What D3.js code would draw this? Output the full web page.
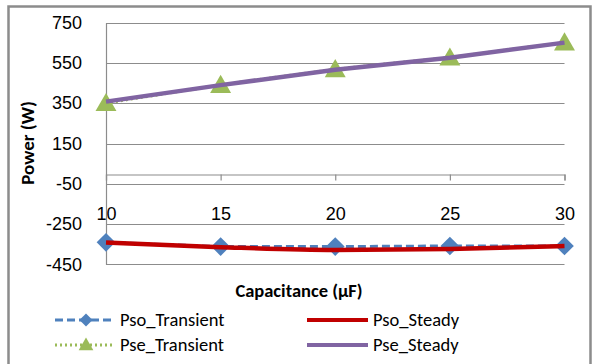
<!doctype html>
<html>
<head>
<meta charset="utf-8">
<script src="https://d3js.org/d3.v7.min.js"></script>
<style>
  body { margin: 0; background: #fff; }
  svg { display: block; font-family: Carlito, Calibri, Lato, "Open Sans", sans-serif; }
</style>
</head>
<body>
<div id="chart"></div>
<script>
// chart data
const capacitance = [10, 15, 20, 25, 30];
const psoTransient = [-341, -362, -362, -359, -359];
const psoSteady = [-342, -365, -379, -374, -359];
const pseTransient = [351, 441, 519, 577, 652];
const pseSteady = [358, 440, 516, 576, 651];
const yTicks = [750, 550, 350, 150, -50, -250, -450];

const width = 595, height = 364;
const svg = d3.select("#chart").append("svg")
    .attr("width", width)
    .attr("height", height);

// outer chart frame (bottom edge runs off the picture)
svg.append("path")
    .attr("d", "M8.5,372 V6.5 H590.5 V372")
    .attr("fill", "none")
    .attr("stroke", "#8c8c8c")
    .attr("stroke-width", 2.5);

const x = d3.scaleLinear().domain([10, 30]).range([106, 564.5]);
const y = d3.scaleLinear().domain([-450, 750]).range([264.3, 22.7]);

const grey = "#8c8c8c";

// horizontal gridlines
svg.append("g")
    .selectAll("line")
    .data(yTicks)
    .join("line")
    .attr("x1", x(10)).attr("x2", x(30))
    .attr("y1", d => Math.round(y(d)) + 0.5)
    .attr("y2", d => Math.round(y(d)) + 0.5)
    .attr("stroke", grey)
    .attr("stroke-width", 1.2);

// y axis
const yAxis = svg.append("g")
    .attr("transform", `translate(${x(10)},0)`)
    .call(d3.axisLeft(y).tickValues(yTicks).tickSize(0).tickPadding(24).tickFormat(d => String(d)));
yAxis.select(".domain").attr("stroke", grey).attr("stroke-width", 1.2);
yAxis.selectAll("text").attr("font-size", 18).attr("fill", "#000").attr("font-family", null);

// x axis crossing at zero, labels pushed down
const xAxis = svg.append("g")
    .attr("transform", `translate(0,${Math.round(y(0)) + 0.5})`)
    .call(d3.axisBottom(x).tickValues(capacitance).tickSize(6).tickPadding(27).tickFormat(d => String(d)));
xAxis.select(".domain").attr("stroke", grey).attr("stroke-width", 1.2);
xAxis.selectAll(".tick line").attr("stroke", grey).attr("stroke-width", 1.2);
xAxis.selectAll("text").attr("font-size", 18).attr("fill", "#000").attr("font-family", null);

// axis titles
svg.append("text")
    .attr("transform", "translate(34,143) rotate(-90)")
    .attr("text-anchor", "middle")
    .attr("font-size", 19)
    .attr("font-weight", "bold")
    .text("Power (W)");

svg.append("text")
    .attr("x", 299).attr("y", 297)
    .attr("text-anchor", "middle")
    .attr("font-size", 18.5)
    .attr("font-weight", "bold")
    .text("Capacitance (\u00b5F)");

const series = [
  {name: "Pso_Transient", values: psoTransient, color: "#4f81bd", dash: "8,4", width: 3, marker: "diamond", curve: d3.curveLinear},
  {name: "Pso_Steady", values: psoSteady, color: "#c00000", dash: null, width: 4.5, marker: null, curve: d3.curveMonotoneX},
  {name: "Pse_Transient", values: pseTransient, color: "#9bbb59", dash: "2,3", width: 3, marker: "triangle", curve: d3.curveLinear},
  {name: "Pse_Steady", values: pseSteady, color: "#8064a2", dash: null, width: 4.5, marker: null, curve: d3.curveLinear}
];

const symbolOf = {
  diamond: d3.symbol().type(d3.symbolSquare).size(175),
  triangle: d3.symbol().type(d3.symbolTriangle).size(190)
};
const rotOf = {diamond: 45, triangle: 0};

// transient lines and markers first, steady lines drawn on top
[series[0], series[2]].forEach(s => {
  const line = d3.line().x((d, i) => x(capacitance[i])).y(d => y(d)).curve(s.curve);
  svg.append("path")
      .datum(s.values)
      .attr("d", line)
      .attr("fill", "none")
      .attr("stroke", s.color)
      .attr("stroke-width", s.width)
      .attr("stroke-dasharray", s.dash);
  svg.append("g")
      .selectAll("path")
      .data(s.values)
      .join("path")
      .attr("d", symbolOf[s.marker])
      .attr("transform", (d, i) => `translate(${x(capacitance[i])},${y(d) + (s.marker === "triangle" ? 2 : 0)}) rotate(${rotOf[s.marker]})`)
      .attr("fill", s.color);
});

[series[1], series[3]].forEach(s => {
  const line = d3.line().x((d, i) => x(capacitance[i])).y(d => y(d)).curve(s.curve);
  svg.append("path")
      .datum(s.values)
      .attr("d", line)
      .attr("fill", "none")
      .attr("stroke", s.color)
      .attr("stroke-width", s.width);
});

// legend
const legendPos = [
  {x: 55, y: 320}, {x: 307, y: 320},
  {x: 55, y: 345}, {x: 307, y: 345}
];
series.forEach((s, i) => {
  const p = legendPos[i];
  const g = svg.append("g").attr("transform", `translate(${p.x},${p.y})`);
  g.append("line")
      .attr("x1", 0).attr("x2", s.marker ? 58 : 61)
      .attr("y1", 0).attr("y2", 0)
      .attr("stroke", s.color)
      .attr("stroke-width", s.marker ? 3 : 4)
      .attr("stroke-dasharray", s.dash);
  if (s.marker) {
    g.append("path")
        .attr("d", symbolOf[s.marker])
        .attr("transform", `translate(31,${s.marker === "triangle" ? 1 : 0}) rotate(${rotOf[s.marker]}) scale(0.7)`)
        .attr("fill", s.color);
  }
  g.append("text")
      .attr("x", s.marker ? 65 : 66)
      .attr("dy", "0.35em")
      .attr("font-size", 18.5)
      .text(s.name);
});
</script>
</body>
</html>
